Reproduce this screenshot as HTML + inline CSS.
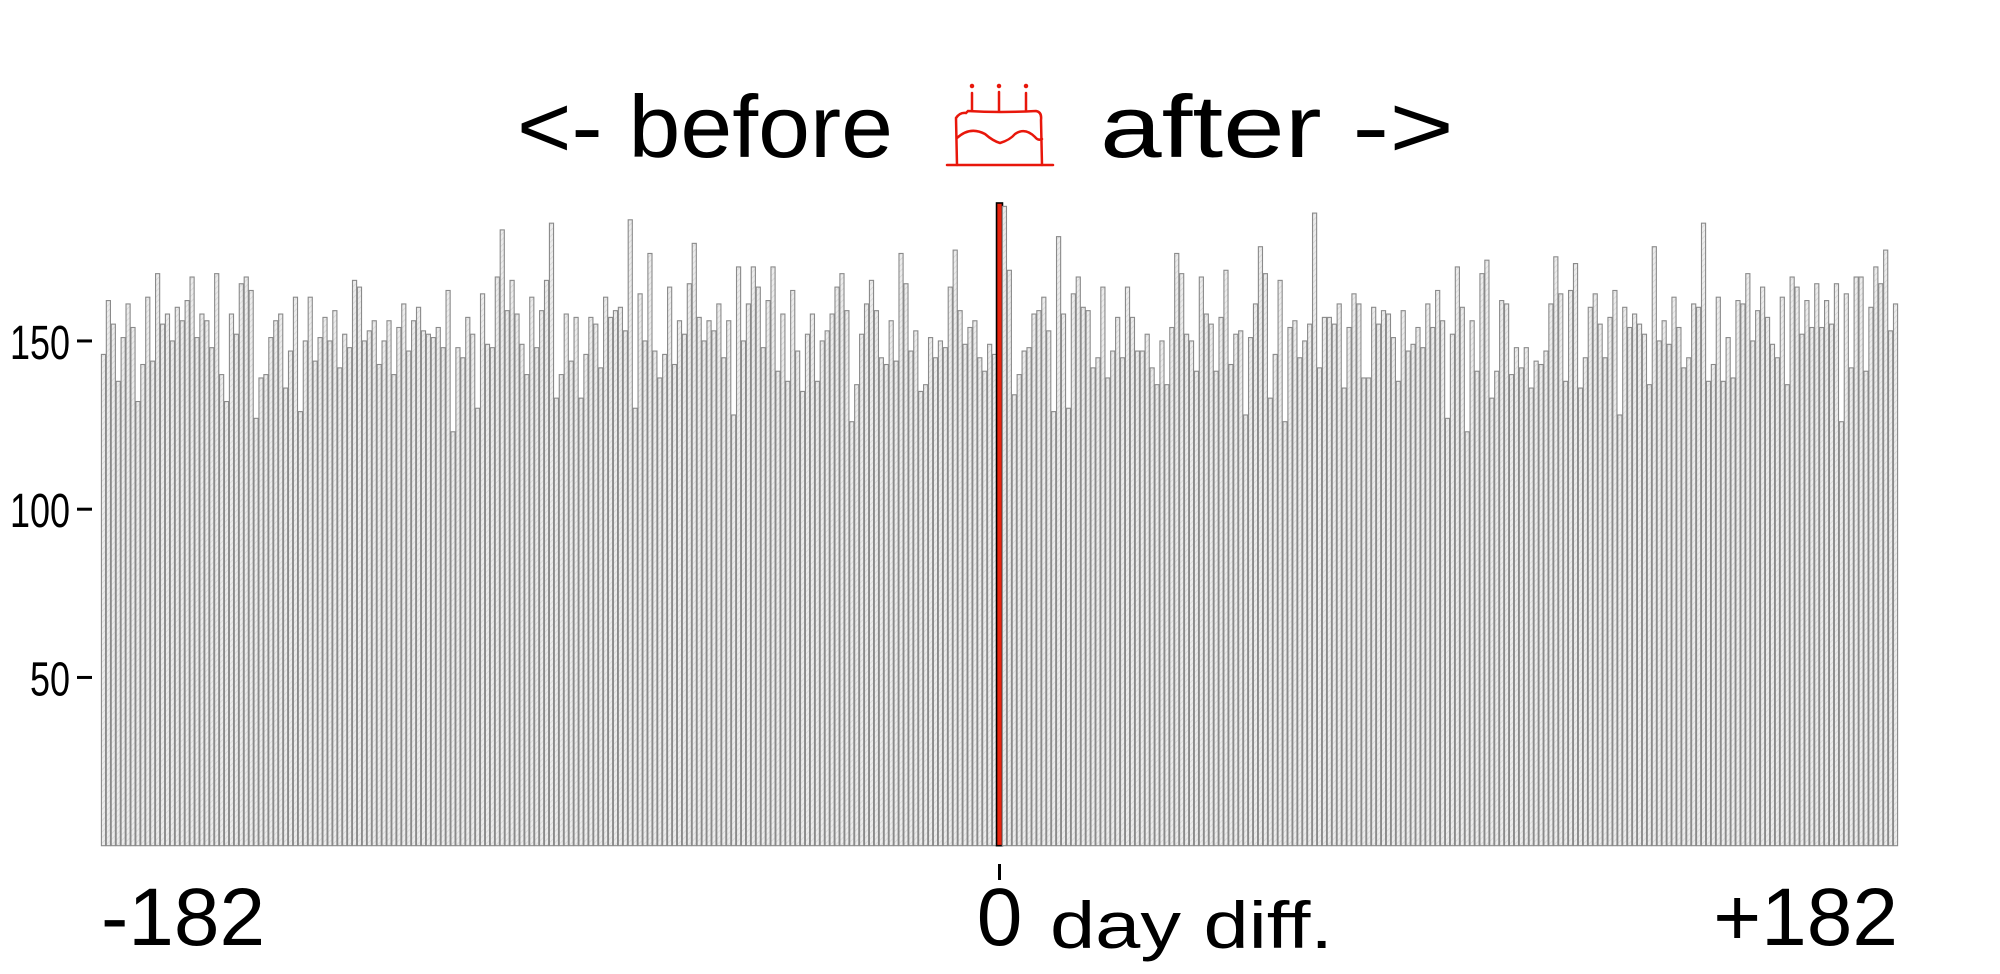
<!DOCTYPE html>
<html><head><meta charset="utf-8"><style>
html,body{margin:0;padding:0;background:#fff;}
svg{display:block;}
text{font-family:"Liberation Sans",sans-serif;fill:#000;}
</style></head><body>
<svg id="chart" width="2000" height="974" viewBox="0 0 2000 974" xmlns="http://www.w3.org/2000/svg">
<defs>
<pattern id="hatch" patternUnits="userSpaceOnUse" width="4" height="4" patternTransform="rotate(45)">
<rect width="4" height="4" fill="#ececec"/>
<line x1="0" y1="0" x2="0" y2="4" stroke="#d2d2d2" stroke-width="1.2"/>
</pattern>
</defs>
<g>
<text x="517" y="157" font-size="88" textLength="376" lengthAdjust="spacingAndGlyphs">&lt;- before</text>
<text x="1100" y="157" font-size="88" textLength="354" lengthAdjust="spacingAndGlyphs">after -&gt;</text>
<g stroke="#e8170b" stroke-width="2.5" fill="none" stroke-linecap="round">
<line x1="947" y1="165" x2="1053" y2="165"/>
<path d="M957 165 L956 118 Q960 112 966 113 L968 111 Q1000 113 1036 111 Q1042 112 1041 120 L1042 165"/>
<path d="M957 138 Q970 126 985 134 Q993 141 1000 143 Q1010 140 1015 134 Q1025 127 1035 137 Q1038 141 1042 139"/>
<line x1="972" y1="93" x2="972" y2="111"/>
<line x1="999" y1="92" x2="999" y2="111"/>
<line x1="1026" y1="93" x2="1026" y2="111"/>
<circle cx="972" cy="86" r="1" fill="#e8170b"/>
<circle cx="999" cy="86" r="1" fill="#e8170b"/>
<circle cx="1026" cy="86" r="1" fill="#e8170b"/>
</g>
</g>
<g id="bars"></g>
<g id="yaxis"></g>
<g id="xaxis"></g>
</svg>
<script>
const values = [
146,162,155,138,151,161,154,132,143,163,144,170,155,158,150,160,156,162,169,151,158,156,148,170,140,132,158,152,167,169,165,127,139,140,151,156,158,136,147,163,129,150,163,144,151,157,150,159,142,152,148,168,166,150,153,156,143,150,156,140,154,161,
147,156,160,153,152,151,154,148,165,123,148,145,157,152,130,164,149,148,169,183,159,168,158,149,140,163,148,159,168,185,133,140,158,144,157,133,146,157,155,142,163,157,159,160,153,186,130,164,150,176,147,139,146,166,143,156,152,167,179,157,150,
156,153,161,145,156,128,172,150,161,172,166,148,162,172,141,158,138,165,147,135,152,158,138,150,153,158,166,170,159,126,137,152,161,168,159,145,143,156,144,176,167,147,153,135,137,151,145,150,148,166,177,159,149,154,156,145,141,149,146,
191,
190,171,134,140,147,148,158,159,163,153,129,181,158,130,164,169,160,159,142,145,166,139,147,157,145,166,157,147,147,152,142,137,150,137,154,176,170,152,150,141,169,158,155,141,157,171,143,152,153,128,151,161,178,170,133,146,168,126,154,156,145,150,
155,188,142,157,157,155,161,136,154,164,161,139,139,160,155,159,158,151,138,159,147,149,154,148,161,154,165,156,127,152,172,160,123,156,141,170,174,133,141,162,161,140,148,142,148,136,144,143,147,161,175,164,138,165,173,136,145,160,164,155,145,
157,165,128,160,154,158,155,152,137,178,150,156,149,163,154,142,145,161,160,185,138,143,163,138,151,139,162,161,170,150,159,166,157,149,145,163,137,169,166,152,162,154,167,154,162,155,167,126,164,142,169,169,141,160,172,167,177,153,161
];
const days = values.map((v,i)=>i-182);
const yTicks = [50,100,150];
const xTickLabels = ["-182","0","+182"];
const xTickDays = [-182,0,182];

const NS="http://www.w3.org/2000/svg";
const X0=101, X1=1898, Y0=845.7, PX_PER=3.365;
const bw=(X1-X0)/values.length;
function xScale(d){return X0+(d+182)*bw;}
function yScale(v){return Y0-v*PX_PER;}
function mk(tag,attrs,parent){const e=document.createElementNS(NS,tag);for(const k in attrs)e.setAttribute(k,attrs[k]);parent.appendChild(e);return e;}

const gb=document.getElementById('bars');
days.forEach((d,i)=>{
  const v=values[i];
  const red=d===0;
  const r=mk('rect',{x:red?xScale(d)-0.5:xScale(d)+0.4,y:yScale(v),width:red?bw+1:bw-0.8,height:Y0-yScale(v),
    fill:red?'#e8240f':'url(#hatch)',stroke:red?'#000':'#8a8a8a','stroke-width':red?1.6:1.1},gb);
  
  
});

const gy=document.getElementById('yaxis');
yTicks.forEach(t=>{
  const y=yScale(t);
  const l=mk('line',{x1:77,x2:92,y1:y,y2:y,stroke:'#000','stroke-width':3},gy);
  
  
  const s=String(t);
  const tx=mk('text',{x:70,y:y+18,'font-size':48,'text-anchor':'end',textLength:s.length*20,lengthAdjust:'spacingAndGlyphs'},gy);
  tx.textContent=s;
  
  
});

const gx=document.getElementById('xaxis');
xTickDays.forEach((d,i)=>{
  const cx=xScale(d)+bw/2;
  if(d===0){
    const l=mk('line',{x1:cx,x2:cx,y1:864,y2:880,stroke:'#000','stroke-width':3},gx);
    
    
  }
  const anchor = d<0?'start':(d>0?'end':'middle');
  const xx = d<0?X0:(d>0?X1:cx);
  const tx=mk('text',{x:xx,y:945,'font-size':82,'text-anchor':anchor},gx);
  tx.textContent=xTickLabels[i];
  
  
});
const xt=mk('text',{x:1050,y:948,'font-size':66,textLength:283,lengthAdjust:'spacingAndGlyphs'},gx);
xt.textContent='day diff.';


</script>
</body></html>
